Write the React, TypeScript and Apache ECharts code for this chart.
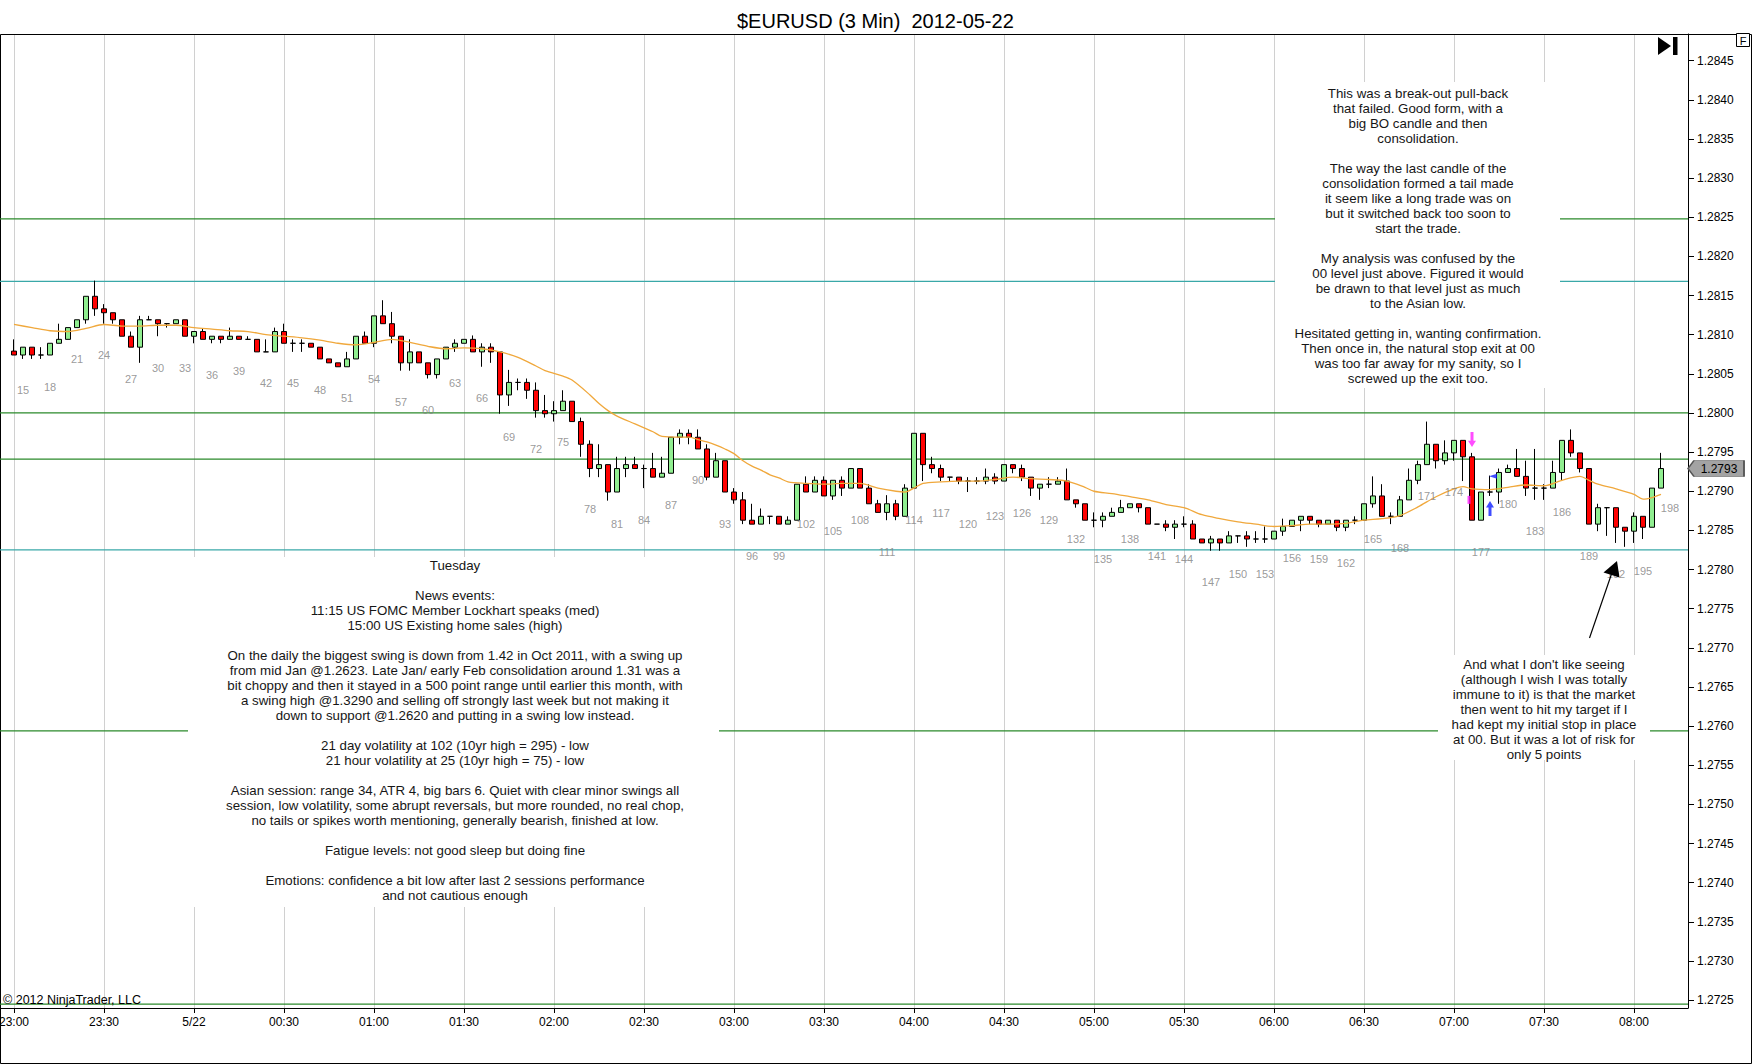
import React, { useEffect, useRef } from 'react';
import * as echarts from 'echarts';

// ---------- data ----------
const FIRST_BAR = 14; // bar number of the first visible candle (aligned with 23:00)

const opens = [
  1.28079, 1.28074, 1.28084, 1.28074, 1.28074, 1.28089, 1.28094, 1.28109, 1.28119, 1.28149,
  1.28133, 1.28128, 1.28119, 1.28098, 1.28084, 1.28119, 1.28119, 1.28114, 1.28114, 1.28119,
  1.28098, 1.28104, 1.28094, 1.28098, 1.28094, 1.28098, 1.28094, 1.28094, 1.28078, 1.28078,
  1.28104, 1.28089, 1.28089, 1.28089, 1.28084, 1.28069, 1.28064, 1.28059, 1.28069, 1.28098,
  1.28089, 1.28124, 1.28114, 1.28098, 1.28064, 1.28078, 1.28064, 1.28049, 1.28069, 1.28084,
  1.28089, 1.28094, 1.28078, 1.28084, 1.28078, 1.28023, 1.28039, 1.28039, 1.28029, 1.28003,
  1.27999, 1.28003, 1.28015, 1.27989, 1.27960, 1.27929, 1.27934, 1.27899, 1.27929, 1.27934,
  1.27929, 1.27929, 1.27918, 1.27923, 1.27969, 1.27974, 1.27969, 1.27954, 1.27918, 1.27939,
  1.27899, 1.27889, 1.27863, 1.27858, 1.27868, 1.27868, 1.27858, 1.27863, 1.27909, 1.27899,
  1.27914, 1.27894, 1.27914, 1.27904, 1.27929, 1.27904, 1.27884, 1.27873, 1.27884, 1.27868,
  1.27904, 1.27974, 1.27934, 1.27929, 1.27918, 1.27918, 1.27913, 1.27913, 1.27913, 1.27918,
  1.27913, 1.27934, 1.27929, 1.27918, 1.27904, 1.27909, 1.27909, 1.27913, 1.27889, 1.27884,
  1.27863, 1.27863, 1.27868, 1.27873, 1.27879, 1.27884, 1.27879, 1.27858, 1.27858, 1.27854,
  1.27858, 1.27858, 1.27839, 1.27834, 1.27839, 1.27834, 1.27843, 1.27843, 1.27839, 1.27839,
  1.27839, 1.27849, 1.27855, 1.27863, 1.27868, 1.27863, 1.27858, 1.27863, 1.27854, 1.27863,
  1.27863, 1.27884, 1.27894, 1.27868, 1.27868, 1.27889, 1.27914, 1.27934, 1.27960, 1.27939,
  1.27949, 1.27965, 1.27944, 1.27863, 1.27899, 1.27899, 1.27924, 1.27929, 1.27919, 1.27904,
  1.27904, 1.27904, 1.27924, 1.27965, 1.27949, 1.27929, 1.27858, 1.27879, 1.27879, 1.27854,
  1.27849, 1.27868, 1.27854, 1.27904,
];

const highs = [
  1.28094, 1.28084, 1.28084, 1.28084, 1.28089, 1.28114, 1.28109, 1.28119, 1.28149, 1.28169,
  1.28139, 1.28128, 1.28119, 1.28104, 1.28124, 1.28124, 1.28119, 1.28114, 1.28119, 1.28119,
  1.28104, 1.28108, 1.28098, 1.28098, 1.28109, 1.28098, 1.28098, 1.28094, 1.28094, 1.28109,
  1.28114, 1.28094, 1.28094, 1.28089, 1.28084, 1.28069, 1.28064, 1.28078, 1.28098, 1.28104,
  1.28124, 1.28144, 1.28129, 1.28098, 1.28094, 1.28078, 1.28064, 1.28069, 1.28084, 1.28094,
  1.28094, 1.28099, 1.28089, 1.28089, 1.28078, 1.28055, 1.28044, 1.28044, 1.28039, 1.28023,
  1.28015, 1.28029, 1.28015, 1.27994, 1.27965, 1.27960, 1.27934, 1.27944, 1.27944, 1.27944,
  1.27934, 1.27949, 1.27944, 1.27969, 1.27979, 1.27979, 1.27979, 1.27960, 1.27949, 1.27939,
  1.27904, 1.27899, 1.27884, 1.27878, 1.27868, 1.27868, 1.27868, 1.27909, 1.27919, 1.27919,
  1.27919, 1.27914, 1.27919, 1.27929, 1.27929, 1.27909, 1.27889, 1.27895, 1.27889, 1.27909,
  1.27974, 1.27974, 1.27944, 1.27934, 1.27918, 1.27918, 1.27918, 1.27918, 1.27929, 1.27923,
  1.27934, 1.27934, 1.27934, 1.27918, 1.27909, 1.27918, 1.27918, 1.27929, 1.27889, 1.27884,
  1.27873, 1.27873, 1.27879, 1.27889, 1.27884, 1.27884, 1.27879, 1.27858, 1.27863, 1.27863,
  1.27868, 1.27863, 1.27839, 1.27843, 1.27839, 1.27849, 1.27843, 1.27849, 1.27849, 1.27855,
  1.27849, 1.27865, 1.27863, 1.27868, 1.27868, 1.27863, 1.27863, 1.27863, 1.27863, 1.27868,
  1.27884, 1.27919, 1.27909, 1.27873, 1.27894, 1.27929, 1.27939, 1.27989, 1.27960, 1.27965,
  1.27965, 1.27965, 1.27949, 1.27899, 1.27920, 1.27929, 1.27934, 1.27954, 1.27939, 1.27954,
  1.27909, 1.27939, 1.27965, 1.27979, 1.27949, 1.27929, 1.27884, 1.27879, 1.27879, 1.27854,
  1.27873, 1.27868, 1.27904, 1.27949,
];

const lows = [
  1.28074, 1.28069, 1.28069, 1.28069, 1.28074, 1.28089, 1.28094, 1.28109, 1.28114, 1.28124,
  1.28114, 1.28114, 1.28098, 1.28084, 1.28064, 1.28119, 1.28098, 1.28109, 1.28114, 1.28098,
  1.28089, 1.28094, 1.28089, 1.28089, 1.28094, 1.28094, 1.28094, 1.28078, 1.28078, 1.28078,
  1.28089, 1.28078, 1.28078, 1.28084, 1.28069, 1.28064, 1.28059, 1.28059, 1.28069, 1.28089,
  1.28084, 1.28114, 1.28089, 1.28054, 1.28054, 1.28064, 1.28044, 1.28044, 1.28069, 1.28078,
  1.28089, 1.28078, 1.28059, 1.28064, 1.27999, 1.28009, 1.28029, 1.28018, 1.27994, 1.27994,
  1.27989, 1.28003, 1.27989, 1.27944, 1.27918, 1.27918, 1.27888, 1.27899, 1.27918, 1.27929,
  1.27904, 1.27918, 1.27918, 1.27923, 1.27960, 1.27960, 1.27954, 1.27914, 1.27918, 1.27899,
  1.27884, 1.27858, 1.27858, 1.27858, 1.27858, 1.27858, 1.27858, 1.27863, 1.27899, 1.27899,
  1.27894, 1.27889, 1.27894, 1.27904, 1.27904, 1.27884, 1.27873, 1.27863, 1.27863, 1.27868,
  1.27904, 1.27913, 1.27923, 1.27913, 1.27913, 1.27909, 1.27899, 1.27909, 1.27909, 1.27909,
  1.27913, 1.27923, 1.27913, 1.27894, 1.27889, 1.27904, 1.27909, 1.27889, 1.27879, 1.27863,
  1.27854, 1.27854, 1.27868, 1.27873, 1.27879, 1.27873, 1.27858, 1.27858, 1.27849, 1.27839,
  1.27854, 1.27839, 1.27834, 1.27824, 1.27824, 1.27834, 1.27834, 1.27829, 1.27834, 1.27834,
  1.27839, 1.27843, 1.27855, 1.27849, 1.27858, 1.27854, 1.27858, 1.27849, 1.27849, 1.27858,
  1.27863, 1.27879, 1.27868, 1.27858, 1.27868, 1.27889, 1.27909, 1.27934, 1.27929, 1.27934,
  1.27939, 1.27913, 1.27863, 1.27863, 1.27894, 1.27884, 1.27924, 1.27919, 1.27894, 1.27889,
  1.27889, 1.27904, 1.27914, 1.27944, 1.27924, 1.27858, 1.27849, 1.27843, 1.27834, 1.27829,
  1.27834, 1.27839, 1.27854, 1.27904,
];

const closes = [
  1.28074, 1.28084, 1.28074, 1.28074, 1.28089, 1.28094, 1.28109, 1.28119, 1.28149, 1.28133,
  1.28128, 1.28119, 1.28098, 1.28084, 1.28119, 1.28119, 1.28114, 1.28114, 1.28119, 1.28098,
  1.28104, 1.28094, 1.28098, 1.28094, 1.28098, 1.28094, 1.28094, 1.28078, 1.28078, 1.28104,
  1.28089, 1.28089, 1.28089, 1.28084, 1.28069, 1.28064, 1.28059, 1.28069, 1.28098, 1.28089,
  1.28124, 1.28114, 1.28098, 1.28064, 1.28078, 1.28064, 1.28049, 1.28069, 1.28084, 1.28089,
  1.28094, 1.28078, 1.28084, 1.28078, 1.28023, 1.28039, 1.28039, 1.28029, 1.28003, 1.27999,
  1.28003, 1.28015, 1.27989, 1.27960, 1.27929, 1.27934, 1.27899, 1.27929, 1.27934, 1.27929,
  1.27929, 1.27918, 1.27923, 1.27969, 1.27974, 1.27969, 1.27954, 1.27918, 1.27939, 1.27899,
  1.27889, 1.27863, 1.27858, 1.27868, 1.27868, 1.27858, 1.27863, 1.27909, 1.27899, 1.27914,
  1.27894, 1.27914, 1.27904, 1.27929, 1.27904, 1.27884, 1.27873, 1.27884, 1.27868, 1.27904,
  1.27974, 1.27934, 1.27929, 1.27918, 1.27918, 1.27913, 1.27913, 1.27913, 1.27918, 1.27913,
  1.27934, 1.27929, 1.27918, 1.27904, 1.27909, 1.27909, 1.27913, 1.27889, 1.27884, 1.27863,
  1.27863, 1.27868, 1.27873, 1.27879, 1.27884, 1.27879, 1.27858, 1.27858, 1.27854, 1.27858,
  1.27858, 1.27839, 1.27834, 1.27839, 1.27834, 1.27843, 1.27843, 1.27839, 1.27839, 1.27839,
  1.27849, 1.27855, 1.27863, 1.27868, 1.27863, 1.27858, 1.27863, 1.27854, 1.27863, 1.27863,
  1.27884, 1.27894, 1.27868, 1.27868, 1.27889, 1.27914, 1.27934, 1.27960, 1.27939, 1.27949,
  1.27965, 1.27944, 1.27863, 1.27899, 1.27899, 1.27924, 1.27929, 1.27919, 1.27904, 1.27904,
  1.27904, 1.27924, 1.27965, 1.27949, 1.27929, 1.27858, 1.27879, 1.27879, 1.27854, 1.27849,
  1.27868, 1.27854, 1.27904, 1.27929,
];

// moving average: [bar, price]
const maPoints = [
  [14, 1.28113], [16, 1.28109], [18, 1.28105], [20, 1.28104], [22, 1.28108], [24, 1.28113],
  [26, 1.28111], [28, 1.28111], [30, 1.28112], [32, 1.28112], [34, 1.28109], [36, 1.28107],
  [38, 1.28105], [40, 1.28104], [42, 1.281], [44, 1.28098], [46, 1.28096], [48, 1.28093],
  [50, 1.28089], [52, 1.28087], [54, 1.2809], [56, 1.28094], [58, 1.2809], [60, 1.28085],
  [62, 1.28082], [64, 1.28083], [66, 1.28082], [68, 1.28078], [70, 1.28071], [72, 1.2806],
  [73, 1.28054], [75, 1.28047], [76, 1.28042], [78, 1.28023], [79, 1.28012], [80, 1.28003],
  [81, 1.27996], [83, 1.27986], [85, 1.27976], [86, 1.2797], [88, 1.27969], [89, 1.27969],
  [90, 1.27966], [91, 1.27963], [92, 1.27959], [93, 1.27954], [94, 1.27948], [95, 1.27939],
  [96, 1.27932], [97, 1.27927], [98, 1.27921], [99, 1.27917], [100, 1.27912], [102, 1.2791],
  [104, 1.27909], [106, 1.2791], [108, 1.2791], [110, 1.27904], [112, 1.279], [113, 1.27899],
  [114, 1.27904], [115, 1.2791], [117, 1.27912], [119, 1.27913], [121, 1.27913], [123, 1.27915],
  [125, 1.27918], [127, 1.27916], [129, 1.27915], [131, 1.27913], [133, 1.27905], [134, 1.279],
  [136, 1.27897], [138, 1.27893], [140, 1.27889], [142, 1.27883], [144, 1.27879], [146, 1.2787],
  [148, 1.27865], [150, 1.27861], [152, 1.27858], [154, 1.27855], [156, 1.27856], [158, 1.27858],
  [160, 1.27858], [162, 1.27859], [164, 1.27863], [166, 1.27865], [168, 1.27869], [170, 1.2788],
  [172, 1.27893], [174, 1.27903], [175, 1.27906], [176, 1.27903], [178, 1.27902], [180, 1.27905],
  [182, 1.27908], [184, 1.27907], [186, 1.27914], [188, 1.27919], [189, 1.27914], [190, 1.27909],
  [192, 1.27903], [194, 1.27896], [195, 1.2789], [196, 1.27892], [197, 1.27896],
];

// bar counter labels (every third bar)
const barLabelNumbers = [
  15, 18, 21, 24, 27, 30, 33, 36, 39, 42, 45, 48, 51, 54, 57, 60, 63, 66, 69, 72, 75,
  78, 81, 84, 87, 90, 93, 96, 99, 102, 105, 108, 111, 114, 117, 120, 123, 126, 129, 132,
  135, 138, 141, 144, 147, 150, 153, 156, 159, 162, 165, 168, 171, 174, 177, 180, 183,
  186, 189, 192, 195, 198,
];
const formingBarLabelAnchor = 1.27919; // anchor of label 198 (bar still forming)

// time axis
const xTickBars = [14, 24, 34, 44, 54, 64, 74, 84, 94, 104, 114, 124, 134, 144, 154, 164, 174, 184, 194];
const xTickLabels = [
  '23:00', '23:30', '5/22', '00:30', '01:00', '01:30', '02:00', '02:30', '03:00', '03:30',
  '04:00', '04:30', '05:00', '05:30', '06:00', '06:30', '07:00', '07:30', '08:00',
];

// price axis
const yTicks = [
  1.2725, 1.273, 1.2735, 1.274, 1.2745, 1.275, 1.2755, 1.276, 1.2765, 1.277, 1.2775, 1.278,
  1.2785, 1.279, 1.2795, 1.28, 1.2805, 1.281, 1.2815, 1.282, 1.2825, 1.283, 1.2835, 1.284, 1.2845,
];

// drawn horizontal levels
const greenLevels = [1.28248, 1.28, 1.27941, 1.27594, 1.27245];
const tealLevels = [1.28168, 1.27825];

// execution markers: [bar, price]
const sellEntry = [176, 1.27966];
const sellFill = [176, 1.27889];
const buyExit = [178, 1.27878];
const buyFill = [178, 1.27919];

// notes
const noteTopRight = [
  'This was a break-out pull-back',
  'that failed. Good form, with a',
  'big BO candle and then',
  'consolidation.',
  '',
  'The way the last candle of the',
  'consolidation formed a tail made',
  'it seem like a long trade was on',
  'but it switched back too soon to',
  'start the trade.',
  '',
  'My analysis was confused by the',
  '00 level just above. Figured it would',
  'be drawn to that level just as much',
  'to the Asian low.',
  '',
  'Hesitated getting in, wanting confirmation.',
  'Then once in, the natural stop exit at 00',
  'was too far away for my sanity, so I',
  'screwed up the exit too.',
];

const noteBottomLeft = [
  'Tuesday',
  '',
  'News events:',
  '11:15 US FOMC Member Lockhart speaks (med)',
  '15:00 US Existing home sales (high)',
  '',
  'On the daily the biggest swing is down from 1.42 in Oct 2011, with a swing up',
  'from mid Jan @1.2623. Late Jan/ early Feb consolidation around 1.31 was a',
  'bit choppy and then it stayed in a 500 point range until earlier this month, with',
  'a swing high @1.3290 and selling off strongly last week but not making it',
  'down to support @1.2620 and putting in a swing low instead.',
  '',
  '21 day volatility at 102 (10yr high = 295) - low',
  '21 hour volatility at 25 (10yr high = 75) - low',
  '',
  'Asian session: range 34, ATR 4, big bars 6. Quiet with clear minor swings all',
  'session, low volatility, some abrupt reversals, but more rounded, no real chop,',
  'no tails or spikes worth mentioning, generally bearish, finished at low.',
  '',
  'Fatigue levels: not good sleep but doing fine',
  '',
  'Emotions: confidence a bit low after last 2 sessions performance',
  'and not cautious enough',
];

const noteRight = [
  "And what I don't like seeing",
  '(although I wish I was totally',
  'immune to it) is that the market',
  'then went to hit my target if I',
  'had kept my initial stop in place',
  'at 00. But it was a lot of risk for',
  'only 5 points',
];

// ---------- chart ----------
const FONT = '"Liberation Sans", Arial, Helvetica, sans-serif';
const GREEN = '#2b8a2b';
const TEAL = '#3aa8a8';
const NOTE_FONT = '13.3px "Liberation Sans", Arial, sans-serif';
const X_MIN = 112 / 9;
const X_MAX = 200;

function buildOption() {
  const lastIdx = closes.length - 1;
  const candleData = opens.map((o, i) => [FIRST_BAR + i, o, closes[i], lows[i], highs[i]]);
  const labelData = barLabelNumbers.map((n) => {
    const idx = n - FIRST_BAR;
    const anchor = idx < lows.length ? lows[idx] : formingBarLabelAnchor;
    return [n, anchor, String(n)];
  });

  const levelSeries = (v: number, color: string) => ({
    type: 'line',
    name: 'level ' + v,
    data: [
      [X_MIN, v],
      [X_MAX, v],
    ],
    symbol: 'none',
    silent: true,
    z: 2,
    lineStyle: { color, width: 1.3, type: 'solid' },
  });

  const noteText = (lines: string[], x: number, top: number) => ({
    type: 'text',
    x,
    y: top,
    z: 101,
    silent: true,
    style: {
      text: lines.join('\n'),
      font: NOTE_FONT,
      fill: '#161616',
      align: 'center',
      textAlign: 'center',
      verticalAlign: 'top',
      textVerticalAlign: 'top',
      lineHeight: 15,
    },
  });
  const noteBox = (x: number, y: number, w: number, h: number) => ({
    type: 'rect',
    z: 100,
    silent: true,
    shape: { x, y, width: w, height: h },
    style: { fill: '#ffffff', stroke: null },
  });

  return {
    animation: false,
    backgroundColor: '#ffffff',
    title: {
      text: '$EURUSD (3 Min) \u00a02012-05-22',
      left: 732,
      top: 6,
      textStyle: { fontSize: 20, fontWeight: 'normal', color: '#000', fontFamily: FONT },
    },
    grid: {
      left: 0,
      top: 34,
      width: 1688,
      height: 974,
      containLabel: false,
      outerBoundsMode: 'none',
    },
    xAxis: {
      type: 'value',
      min: X_MIN,
      max: X_MAX,
      axisLine: { show: true, onZero: false, lineStyle: { color: '#000', width: 1 } },
      axisTick: { show: true, customValues: xTickBars, length: 5, lineStyle: { color: '#000' } },
      axisLabel: {
        show: true,
        customValues: xTickBars,
        formatter: (v: number) => {
          const k = xTickBars.indexOf(Math.round(v));
          return k >= 0 ? xTickLabels[k] : '';
        },
        margin: 8,
        fontSize: 12,
        color: '#000',
        fontFamily: FONT,
        hideOverlap: false,
      },
      splitLine: { show: true, lineStyle: { color: '#d0d0d0', width: 1 } },
    },
    yAxis: {
      type: 'value',
      position: 'right',
      min: 1.2724,
      max: 1.28484,
      axisLine: { show: true, onZero: false, lineStyle: { color: '#000', width: 1 } },
      axisTick: { show: true, customValues: yTicks, length: 6, lineStyle: { color: '#000' } },
      axisLabel: {
        show: true,
        customValues: yTicks,
        formatter: (v: number) => v.toFixed(4),
        margin: 9,
        fontSize: 12,
        color: '#000',
        fontFamily: FONT,
      },
      splitLine: { show: false },
    },
    series: [
      ...greenLevels.map((v) => levelSeries(v, GREEN)),
      ...tealLevels.map((v) => levelSeries(v, TEAL)),
      {
        type: 'candlestick',
        name: '$EURUSD',
        dimensions: ['bar', 'open', 'close', 'lowest', 'highest'],
        encode: { x: 0, y: [1, 2, 3, 4] },
        data: candleData,
        barWidth: 6,
        z: 3,
        itemStyle: {
          color: '#90ee90',
          color0: '#ff0000',
          borderColor: '#000',
          borderColor0: '#000',
          borderColorDoji: '#000',
          borderWidth: 1,
        },
        markPoint: {
          silent: true,
          animation: false,
          data: [
            {
              coord: [X_MAX, closes[lastIdx]],
              symbol: 'path://M0,8 L6,0 L56,0 L56,16 L6,16 Z',
              symbolSize: [56, 16],
              symbolKeepAspect: false,
              symbolOffset: [28, 0],
              itemStyle: { color: '#a3a3a3', borderColor: '#555', borderWidth: 1 },
              label: {
                show: true,
                position: 'inside',
                offset: [3, 0],
                formatter: closes[lastIdx].toFixed(4),
                color: '#000',
                fontSize: 12,
                fontFamily: FONT,
              },
            },
          ],
        },
      },
      {
        type: 'line',
        name: 'MA',
        data: maPoints,
        smooth: 0.3,
        symbol: 'none',
        z: 4,
        silent: true,
        lineStyle: { color: '#f0a83c', width: 1.3 },
      },
      {
        type: 'scatter',
        name: 'bar numbers',
        data: labelData,
        symbol: 'circle',
        symbolSize: 1,
        silent: true,
        z: 5,
        itemStyle: { color: 'rgba(0,0,0,0)' },
        label: {
          show: true,
          position: 'inside',
          offset: [0, 31.5],
          formatter: (p: any) => p.value[2],
          color: '#808080',
          fontSize: 11,
          fontFamily: FONT,
        },
      },
      {
        type: 'scatter',
        name: 'executions',
        silent: true,
        z: 6,
        symbolKeepAspect: false,
        data: [
          {
            value: sellEntry,
            symbol: 'path://M2.5,0 L5.5,0 L5.5,8 L8,8 L4,14 L0,8 L2.5,8 Z',
            symbolSize: [8, 15],
            itemStyle: { color: '#ff20ff' },
          },
          {
            value: sellFill,
            symbol: 'rect',
            symbolSize: [3, 8],
            symbolOffset: [-3, 0],
            itemStyle: { color: '#ff20ff' },
          },
          {
            value: buyExit,
            symbol: 'path://M4,0 L8,6 L5.5,6 L5.5,14 L2.5,14 L2.5,6 L0,6 Z',
            symbolSize: [8, 15],
            itemStyle: { color: '#1020ff' },
          },
          {
            value: buyFill,
            symbol: 'triangle',
            symbolSize: [5, 8],
            symbolRotate: 90,
            symbolOffset: [3, 0],
            itemStyle: { color: '#1020ff' },
          },
        ],
      },
    ],
    graphic: {
      elements: [
        // outer frame
        {
          type: 'rect',
          z: 1,
          silent: true,
          shape: { x: 0.5, y: 34.5, width: 1751, height: 1029 },
          style: { fill: 'none', stroke: '#000', lineWidth: 1 },
        },
        noteBox(1275, 82, 285, 306),
        noteText(noteTopRight, 1418, 85.8),
        noteBox(188, 557, 531, 350),
        noteText(noteBottomLeft, 455, 558.2),
        noteBox(1438, 655, 212, 105),
        noteText(noteRight, 1544, 656.5),
        // arrow pointing to the low
        {
          type: 'line',
          z: 110,
          silent: true,
          shape: { x1: 1589.5, y1: 638, x2: 1611.5, y2: 574 },
          style: { stroke: '#000', lineWidth: 1.2 },
        },
        {
          type: 'polygon',
          z: 110,
          silent: true,
          shape: { points: [[1617, 561], [1603.5, 572.5], [1619.5, 577.5]] },
          style: { fill: '#000' },
        },
        // "go to last bar" icon
        {
          type: 'polygon',
          z: 110,
          silent: true,
          shape: { points: [[1658, 37], [1671, 46], [1658, 55]] },
          style: { fill: '#000' },
        },
        {
          type: 'rect',
          z: 110,
          silent: true,
          shape: { x: 1673, y: 37, width: 4.5, height: 18 },
          style: { fill: '#000' },
        },
        // F box
        {
          type: 'rect',
          z: 110,
          silent: true,
          shape: { x: 1736.5, y: 33.5, width: 13, height: 13 },
          style: { fill: '#fff', stroke: '#000', lineWidth: 1 },
        },
        {
          type: 'text',
          z: 111,
          silent: true,
          x: 1743,
          y: 40.5,
          style: {
            text: 'F',
            font: '11px "Liberation Sans", Arial, sans-serif',
            fill: '#000',
            align: 'center',
            verticalAlign: 'middle',
          },
        },
        // copyright
        {
          type: 'text',
          z: 111,
          silent: true,
          x: 3,
          y: 999.5,
          style: {
            text: '\u00a9 2012 NinjaTrader, LLC',
            font: '12.5px "Liberation Sans", Arial, sans-serif',
            fill: '#000',
            align: 'left',
            verticalAlign: 'middle',
          },
        },
      ],
    },
  };
}

export default function App() {
  const ref = useRef<HTMLDivElement>(null);
  useEffect(() => {
    if (!ref.current) return;
    const chart = echarts.init(ref.current, null, { renderer: 'svg' });
    chart.setOption(buildOption() as any);
    return () => {
      chart.dispose();
    };
  }, []);
  return (
    <div
      ref={ref}
      style={{ position: 'absolute', left: 0, top: 0, width: 1752, height: 1064, background: '#fff' }}
    />
  );
}
